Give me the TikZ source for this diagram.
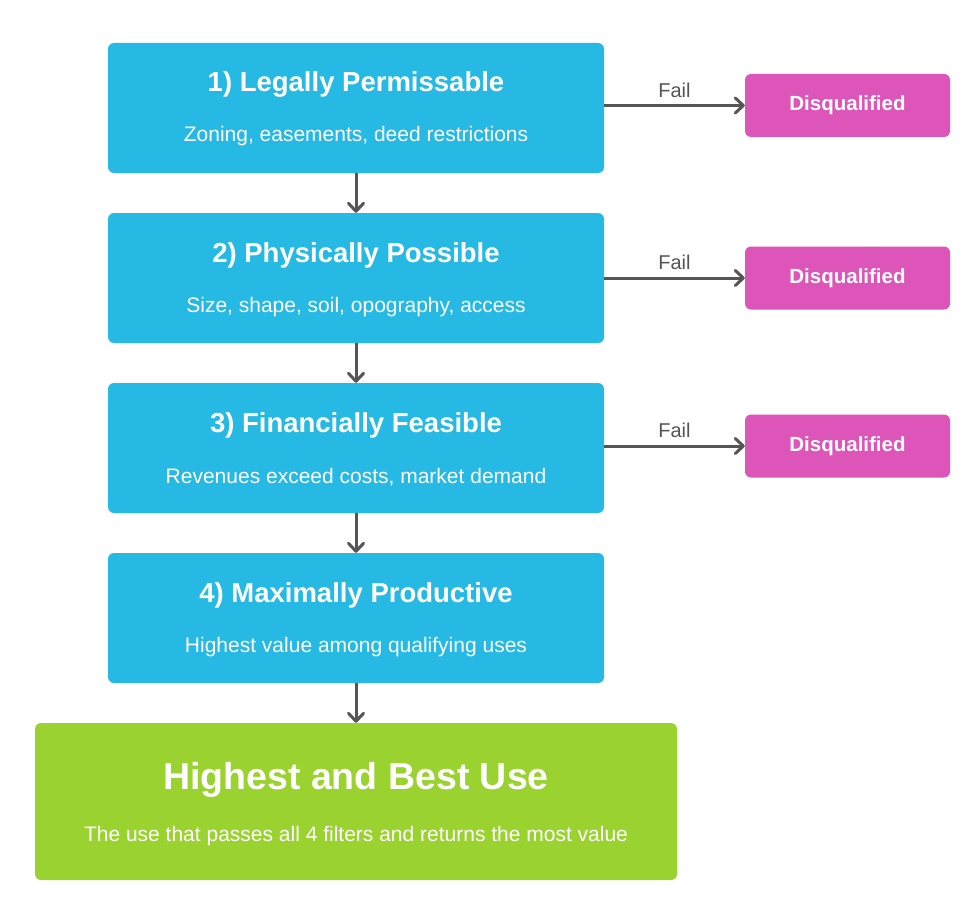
\documentclass[tikz,border=0pt]{standalone}
\usepackage{fontspec}
\setmainfont{Liberation Sans}
\usetikzlibrary{arrows.meta}
\definecolor{stepblue}{HTML}{25B9E3}
\definecolor{dqpink}{HTML}{DD55B8}
\definecolor{hbgreen}{HTML}{9AD22F}
\definecolor{arrowgray}{HTML}{555555}
\begin{document}
\begin{tikzpicture}[x=1pt,y=-1pt,
  stepbox/.style={fill=stepblue, rounded corners=6pt, minimum width=496pt, minimum height=130pt, inner sep=0pt},
  dqbox/.style={fill=dqpink, rounded corners=6pt, minimum width=205pt, minimum height=63pt, inner sep=0pt, text=white, font=\bfseries\fontsize{20.5}{24}\selectfont},
  finalbox/.style={fill=hbgreen, rounded corners=6pt, minimum width=642pt, minimum height=157pt, inner sep=0pt},
  ttl/.style={text=white, font=\bfseries\fontsize{27.5}{32}\selectfont},
  sub/.style={text=white, font=\fontsize{21}{25}\selectfont},
  flow/.style={draw=arrowgray, line width=3pt, -{Straight Barb[length=8pt,width=15pt,line width=3pt,round]}},
  faillbl/.style={text=arrowgray, font=\fontsize{20}{24}\selectfont}
]
\useasboundingbox (0,0) rectangle (980,923);
\fill[white] (0,0) rectangle (980,923);

\node[stepbox] (s1) at (356,108) {};
\node[stepbox] (s2) at (356,278) {};
\node[stepbox] (s3) at (356,448) {};
\node[stepbox] (s4) at (356,618) {};
\node[finalbox] (hb) at (356,801.5) {};

\node[ttl] (t1) at (356,84) {1) Legally Permissable};
\node[sub] (u1) at (356,136) {Zoning, easements, deed restrictions};
\node[ttl] (t2) at (356,255) {2) Physically Possible};
\node[sub] (u2) at (356,307) {Size, shape, soil, opography, access};
\node[ttl] (t3) at (356,425) {3) Financially Feasible};
\node[sub] (u3) at (356,477) {Revenues exceed costs, market demand};
\node[ttl] (t4) at (356,595) {4) Maximally Productive};
\node[sub] (u4) at (356,647) {Highest value among qualifying uses};
\node[text=white, font=\bfseries\fontsize{37.5}{44}\selectfont] (th) at (356,780) {Highest and Best Use};
\node[sub] (uh) at (356,836) {The use that passes all 4 filters and returns the most value};

\node[dqbox] (d1) at (847.5,105.5) {Disqualified};
\node[dqbox] (d2) at (847.5,278) {Disqualified};
\node[dqbox] (d3) at (847.5,446) {Disqualified};

\draw[flow] (s1.south) -- (s2.north);
\draw[flow] (s2.south) -- (s3.north);
\draw[flow] (s3.south) -- (s4.north);
\draw[flow] (s4.south) -- (hb.north);

\draw[flow] (s1.east |- d1.west) -- node[faillbl, above=3pt] {Fail} (d1.west);
\draw[flow] (s2.east |- d2.west) -- node[faillbl, above=3pt] {Fail} (d2.west);
\draw[flow] (s3.east |- d3.west) -- node[faillbl, above=3pt] {Fail} (d3.west);
\end{tikzpicture}
\end{document}
